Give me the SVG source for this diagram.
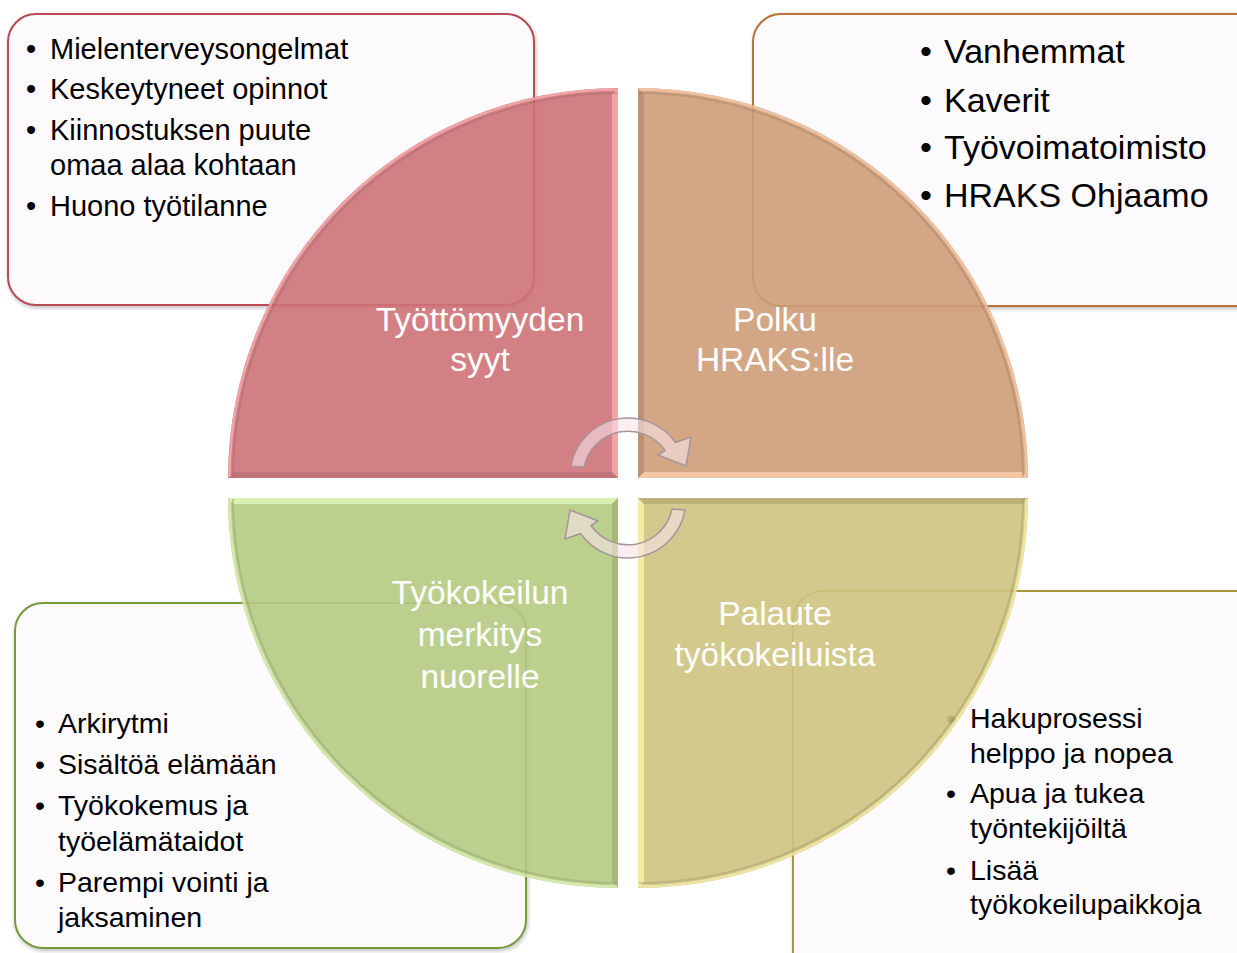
<svg xmlns="http://www.w3.org/2000/svg" width="1237" height="953" viewBox="0 0 1237 953">
<style>
.box{fill:#fdfbfe;stroke-width:2}
.bt{font-family:"Liberation Sans",Arial,sans-serif;fill:#000}
.ql{font-family:"Liberation Sans",Arial,sans-serif;fill:#fff;font-size:33.5px;text-anchor:middle}
.quad{opacity:0.9}
.rim{fill:none;stroke-width:2.5}
.rim2{fill:none;stroke-width:2;stroke-opacity:0.45}
.arw{fill:#f8e2e8;fill-opacity:0.6;stroke:#a8959b;stroke-width:1.5;stroke-linejoin:round}
</style>
<defs>
<filter id="sh" x="-5%" y="-5%" width="110%" height="110%">
<feGaussianBlur in="SourceAlpha" stdDeviation="2"/>
<feOffset dx="1" dy="2"/>
<feComponentTransfer><feFuncA type="linear" slope="0.25"/></feComponentTransfer>
<feMerge><feMergeNode/><feMergeNode in="SourceGraphic"/></feMerge>
</filter>
<path id="qOuter" d="M618,478 L228,478 A390,390 0 0 1 618,88 Z"/>
<path id="qLight" d="M618,88 L618,478 L612,472 L612,94 Z"/>
<path id="qDark" d="M228,478 L618,478 L612,472 L234,472 Z"/>
<path id="qRim" d="M229.5,477 A388.5,388.5 0 0 1 617,89.5"/>
<path id="qRim2" d="M233,477 A385,385 0 0 1 617,93"/>
</defs>
<rect width="1237" height="953" fill="#fff"/>

<g id="box-tl">
<rect class="box" x="8" y="14" width="526" height="291" rx="28" stroke="#b94a55" filter="url(#sh)"/>
<text class="bt" font-size="29"><tspan x="26" y="59">•</tspan><tspan x="50" y="59">Mielenterveysongelmat</tspan></text>
<text class="bt" font-size="29"><tspan x="26" y="99">•</tspan><tspan x="50" y="99">Keskeytyneet opinnot</tspan></text>
<text class="bt" font-size="29"><tspan x="26" y="140">•</tspan><tspan x="50" y="140">Kiinnostuksen puute</tspan><tspan x="50" y="175">omaa alaa kohtaan</tspan></text>
<text class="bt" font-size="29"><tspan x="26" y="216">•</tspan><tspan x="50" y="216">Huono työtilanne</tspan></text>
</g>

<g id="box-tr">
<rect class="box" x="753" y="14" width="520" height="292" rx="28" stroke="#b8733a" filter="url(#sh)"/>
<text class="bt" font-size="34"><tspan x="920" y="63">•</tspan><tspan x="944" y="63">Vanhemmat</tspan></text>
<text class="bt" font-size="34"><tspan x="920" y="112">•</tspan><tspan x="944" y="112">Kaverit</tspan></text>
<text class="bt" font-size="34"><tspan x="920" y="159">•</tspan><tspan x="944" y="159">Työvoimatoimisto</tspan></text>
<text class="bt" font-size="34"><tspan x="920" y="207">•</tspan><tspan x="944" y="207">HRAKS Ohjaamo</tspan></text>
</g>

<g id="box-bl">
<rect class="box" x="15" y="603" width="511" height="345" rx="28" stroke="#779a3c" filter="url(#sh)"/>
<text class="bt" font-size="28.5"><tspan x="35" y="733">•</tspan><tspan x="58" y="733">Arkirytmi</tspan></text>
<text class="bt" font-size="28.5"><tspan x="35" y="774">•</tspan><tspan x="58" y="774">Sisältöä elämään</tspan></text>
<text class="bt" font-size="28.5"><tspan x="35" y="815">•</tspan><tspan x="58" y="815">Työkokemus ja</tspan><tspan x="58" y="851">työelämätaidot</tspan></text>
<text class="bt" font-size="28.5"><tspan x="35" y="892">•</tspan><tspan x="58" y="892">Parempi vointi ja</tspan><tspan x="58" y="927">jaksaminen</tspan></text>
</g>

<g id="box-br">
<rect class="box" x="793" y="591" width="480" height="400" rx="30" stroke="#a89a38" filter="url(#sh)"/>
<text class="bt" font-size="28.5"><tspan x="946" y="728">•</tspan><tspan x="970" y="728">Hakuprosessi</tspan><tspan x="970" y="763">helppo ja nopea</tspan></text>
<text class="bt" font-size="28.5"><tspan x="946" y="803">•</tspan><tspan x="970" y="803">Apua ja tukea</tspan><tspan x="970" y="838">työntekijöiltä</tspan></text>
<text class="bt" font-size="28.5"><tspan x="946" y="880">•</tspan><tspan x="970" y="880">Lisää</tspan><tspan x="970" y="914">työkokeilupaikkoja</tspan></text>
</g>

<g id="quad-tl" class="quad">
<use href="#qOuter" fill="#cf7377"/>
<use href="#qLight" fill="#f39a9c"/>
<use href="#qDark" fill="#b8666b"/>
<use href="#qRim" class="rim" stroke="#ee9c9e"/>
<use href="#qRim2" class="rim2" stroke="#9e5a5e"/>
</g>
<g id="quad-tr" class="quad" transform="rotate(90 628 488)">
<use href="#qOuter" fill="#cf9e79"/>
<use href="#qLight" fill="#f6c29c"/>
<use href="#qDark" fill="#b58763"/>
<use href="#qRim" class="rim" stroke="#eebc98"/>
<use href="#qRim2" class="rim2" stroke="#9a7454"/>
</g>
<g id="quad-br" class="quad" transform="rotate(180 628 488)">
<use href="#qOuter" fill="#cfc480"/>
<use href="#qLight" fill="#f2ec9a"/>
<use href="#qDark" fill="#b3aa6a"/>
<use href="#qRim" class="rim" stroke="#ece49a"/>
<use href="#qRim2" class="rim2" stroke="#958c55"/>
</g>
<g id="quad-bl" class="quad" transform="rotate(270 628 488)">
<use href="#qOuter" fill="#b5cb82"/>
<use href="#qLight" fill="#d6eeaa"/>
<use href="#qDark" fill="#9db26c"/>
<use href="#qRim" class="rim" stroke="#d2e6a6"/>
<use href="#qRim2" class="rim2" stroke="#84975a"/>
</g>

<g id="labels">
<text class="ql" x="480" y="331">Työttömyyden</text>
<text class="ql" x="480" y="371">syyt</text>
<text class="ql" x="775" y="331">Polku</text>
<text class="ql" x="775" y="371">HRAKS:lle</text>
<text class="ql" x="480" y="604">Työkokeilun</text>
<text class="ql" x="480" y="646">merkitys</text>
<text class="ql" x="480" y="688">nuorelle</text>
<text class="ql" x="775" y="625">Palaute</text>
<text class="ql" x="775" y="666">työkokeiluista</text>
</g>

<g id="connectors">
<path class="arw" d="M571,466 A58,58 0 0 1 675.5,442.5 L691,437 L686,466 L658,455 L665,450.5 A45,45 0 0 0 584,467 Z"/>
<path class="arw" transform="rotate(180 628 488)" d="M571,466 A58,58 0 0 1 675.5,442.5 L691,437 L686,466 L658,455 L665,450.5 A45,45 0 0 0 584,467 Z"/>
</g>
</svg>
